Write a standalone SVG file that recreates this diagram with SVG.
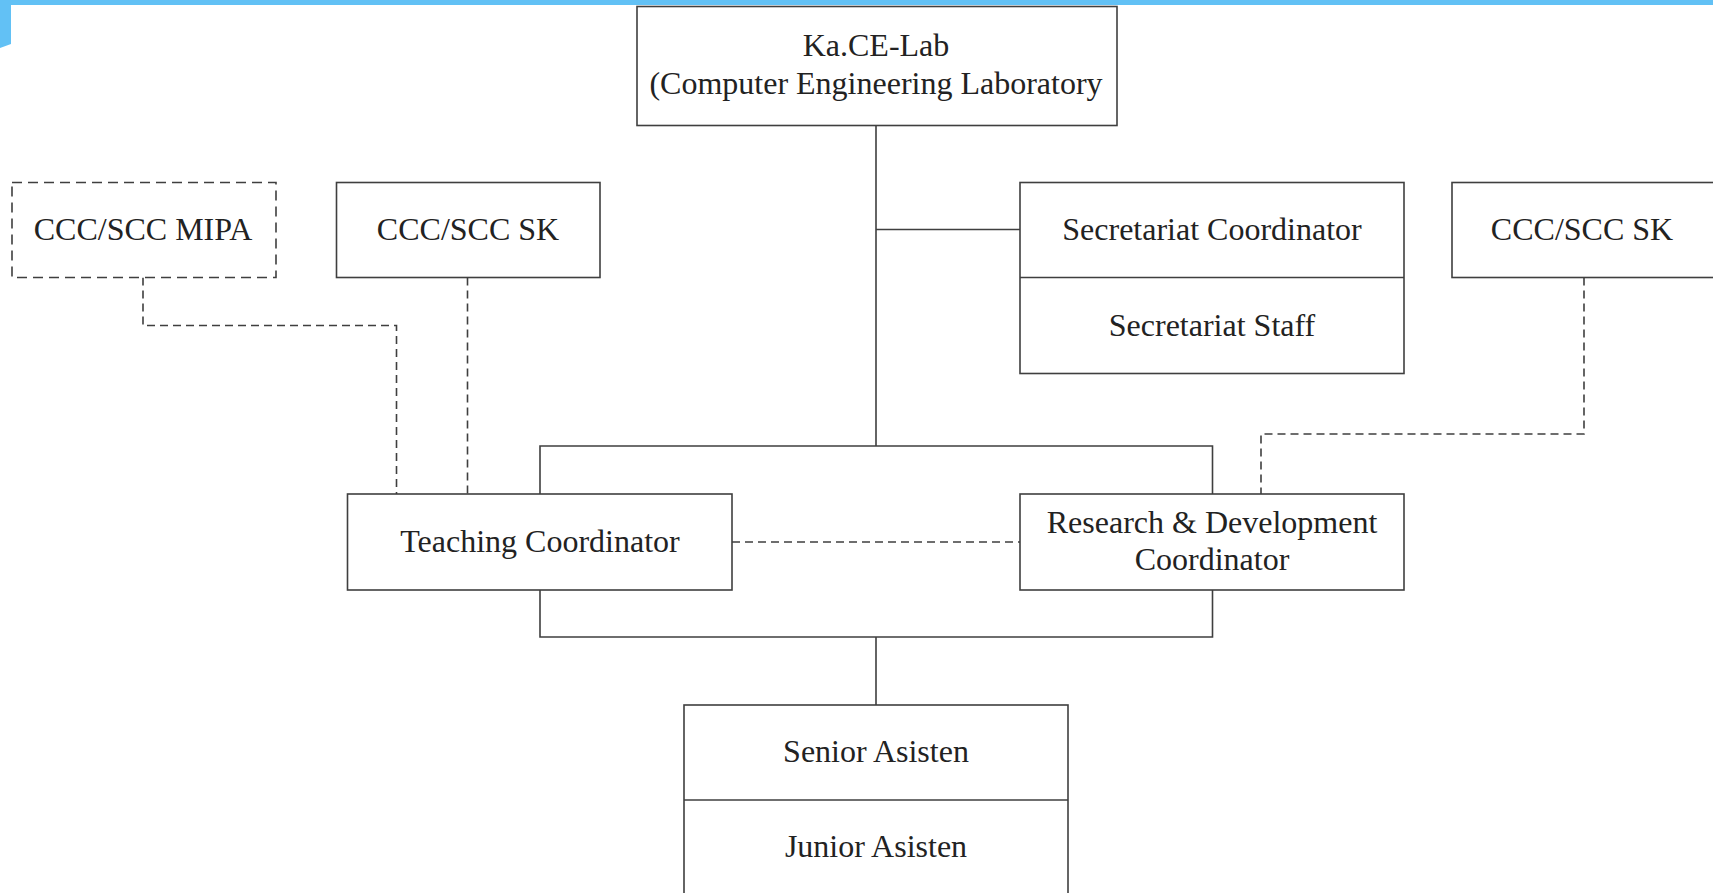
<svg xmlns="http://www.w3.org/2000/svg" width="1713" height="893" viewBox="0 0 1713 893">
<style>
.box{fill:#fff;stroke:#3f3f3f;stroke-width:1.6}
.dbox{fill:#fff;stroke:#3f3f3f;stroke-width:1.6;stroke-dasharray:10 6}
.ln{fill:none;stroke:#3f3f3f;stroke-width:1.6}
.dl{fill:none;stroke:#3f3f3f;stroke-width:1.6;stroke-dasharray:8 5}
text{font-family:"Liberation Serif","Times New Roman",serif;font-size:32px;fill:#222;text-anchor:middle}
</style>
<rect x="0" y="0" width="1713" height="893" fill="#fff"/>
<polygon points="0,0 1713,0 1713,5 11,5 11,44 0,48" fill="#62c1f5"/>
<g id="connectors">
<path class="ln" d="M876,126 V446 M876,229.5 H1020 M540,494 V446 H1212.5 V494 M540,590 V637 H1212.5 V590 M876,637 V705"/>
<path class="dl" d="M143,277.5 V325.5 H396.5 V494 M467.5,277.5 V494 M1584,277.5 V434 H1261 V494 M732,542 H1020"/>
</g>
<g id="kacelab"><rect class="box" x="637" y="6.5" width="480" height="119"/><text x="876" y="56">Ka.CE-Lab</text><text x="876" y="94">(Computer Engineering Laboratory</text></g>
<g id="ccc-mipa"><rect class="dbox" x="12" y="182.5" width="264" height="95"/><text x="143" y="240">CCC/SCC MIPA</text></g>
<g id="ccc-sk-left"><rect class="box" x="336.5" y="182.5" width="263.5" height="95"/><text x="468" y="240">CCC/SCC SK</text></g>
<g id="secretariat"><rect class="box" x="1020" y="182.5" width="384" height="191"/><line class="ln" x1="1020" y1="277.5" x2="1404" y2="277.5"/><text x="1212" y="240">Secretariat Coordinator</text><text x="1212" y="336">Secretariat Staff</text></g>
<g id="ccc-sk-right"><rect class="box" x="1452" y="182.5" width="270" height="95"/><text x="1582" y="240">CCC/SCC SK</text></g>
<g id="teaching"><rect class="box" x="347.5" y="494" width="384.5" height="96"/><text x="540" y="552">Teaching Coordinator</text></g>
<g id="rnd"><rect class="box" x="1020" y="494" width="384" height="96"/><text x="1212" y="533">Research &amp; Development</text><text x="1212" y="570">Coordinator</text></g>
<g id="asisten"><rect class="box" x="684" y="705" width="384" height="200"/><line class="ln" x1="684" y1="800" x2="1068" y2="800"/><text x="876" y="762">Senior Asisten</text><text x="876" y="857">Junior Asisten</text></g>
</svg>
